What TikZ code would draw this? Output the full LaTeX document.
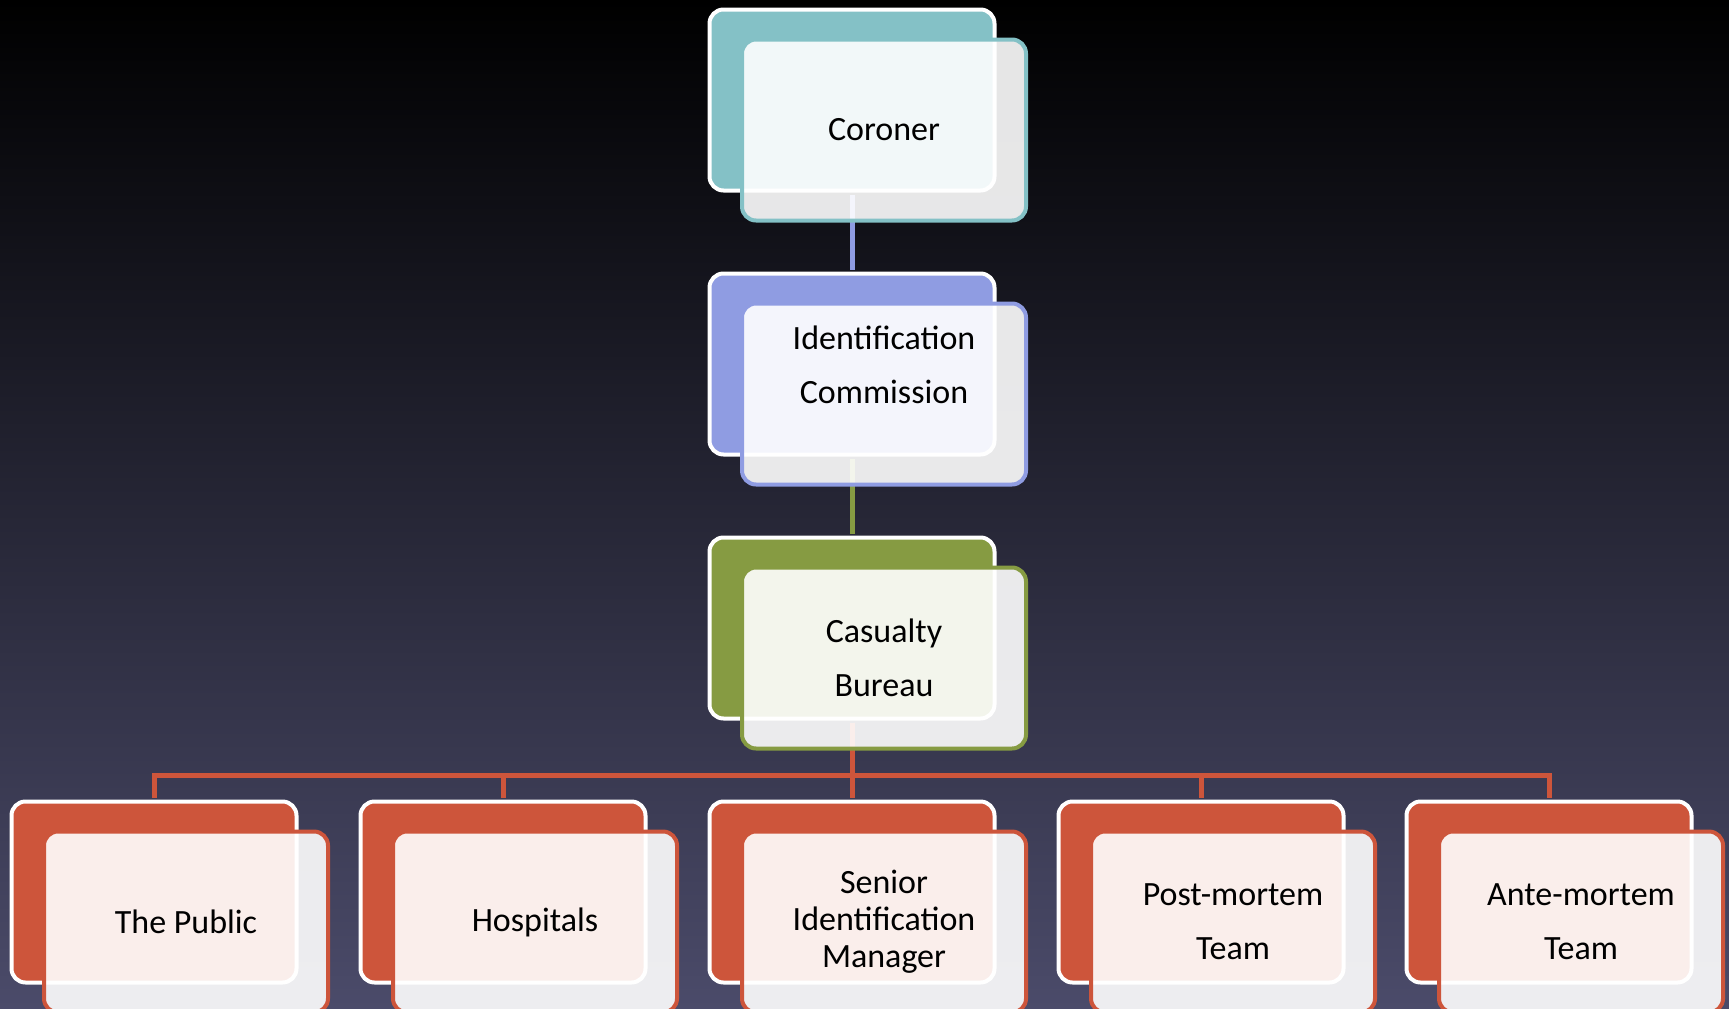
\documentclass[tikz,border=0pt]{standalone}
\usepackage{fontspec}
\setmainfont{Carlito}
\definecolor{coronerteal}{HTML}{84C1C6}
\definecolor{commissionblue}{HTML}{8F9CE2}
\definecolor{bureaugreen}{HTML}{869B42}
\definecolor{teamred}{HTML}{CD553B}
\definecolor{bgmiddle}{HTML}{201E37}
\definecolor{bgbottom}{HTML}{4B4B6A}

\begin{document}
\begin{tikzpicture}[x=1pt, y=-1pt]
\clip (0,0) rectangle (1729,1009);
\shade[top color=black, middle color=bgmiddle, bottom color=bgbottom] (0,0) rectangle (1729,1009);

\begin{scope}[every node/.style={rectangle, rounded corners=14pt, draw=white, line width=4pt,
                                 minimum width=285pt, minimum height=181pt, inner sep=0pt}]
    \node[fill=coronerteal] (Cb) at (852,100) {};
    \node[fill=commissionblue] (Ib) at (852,364) {};
    \node[fill=bureaugreen] (Bb) at (852,628) {};
    \node[fill=teamred] (Pb) at (154,892) {};
    \node[fill=teamred] (Hb) at (503,892) {};
    \node[fill=teamred] (Sb) at (852,892) {};
    \node[fill=teamred] (Tb) at (1201,892) {};
    \node[fill=teamred] (Ab) at (1549,892) {};
\end{scope}

\begin{scope}[line width=5pt, shorten <=2pt, shorten >=2pt]
    \draw[commissionblue] (Cb) -- (Ib);
    \draw[bureaugreen] (Ib) -- (Bb);
    \draw[teamred] (Bb.south) -- ++(0,55) -| (Pb.north);
    \draw[teamred] (Bb.south) -- ++(0,55) -| (Hb.north);
    \draw[teamred] (Bb.south) -- ++(0,55) -| (Sb.north);
    \draw[teamred] (Bb.south) -- ++(0,55) -| (Tb.north);
    \draw[teamred] (Bb.south) -- ++(0,55) -| (Ab.north);
\end{scope}

\begin{scope}[every node/.style={rectangle, rounded corners=14pt, line width=4pt, fill=white,
                                 fill opacity=0.9, text opacity=1, minimum width=284pt,
                                 minimum height=181pt, inner sep=0pt, align=center,
                                 font=\fontsize{34}{54}\selectfont}]
    \node[draw=coronerteal] (C) at (884,130) {Coroner};
    \node[draw=commissionblue] (I) at (884,394) {Identification\\Commission\\[-12pt]\strut};
    \node[draw=bureaugreen] (B) at (884,658) {Casualty\\Bureau};
    \node[draw=teamred] (P) at (186,922) {The Public};
    \node[draw=teamred] (H) at (535,922) {Hospitals};
    \node[draw=teamred, font=\fontsize{34}{37}\selectfont] (S) at (884,922) {Senior\\Identification\\Manager};
    \node[draw=teamred] (T) at (1233,922) {Post-mortem\\Team};
    \node[draw=teamred] (A) at (1581,922) {Ante-mortem\\Team};
\end{scope}
\end{tikzpicture}
\end{document}
